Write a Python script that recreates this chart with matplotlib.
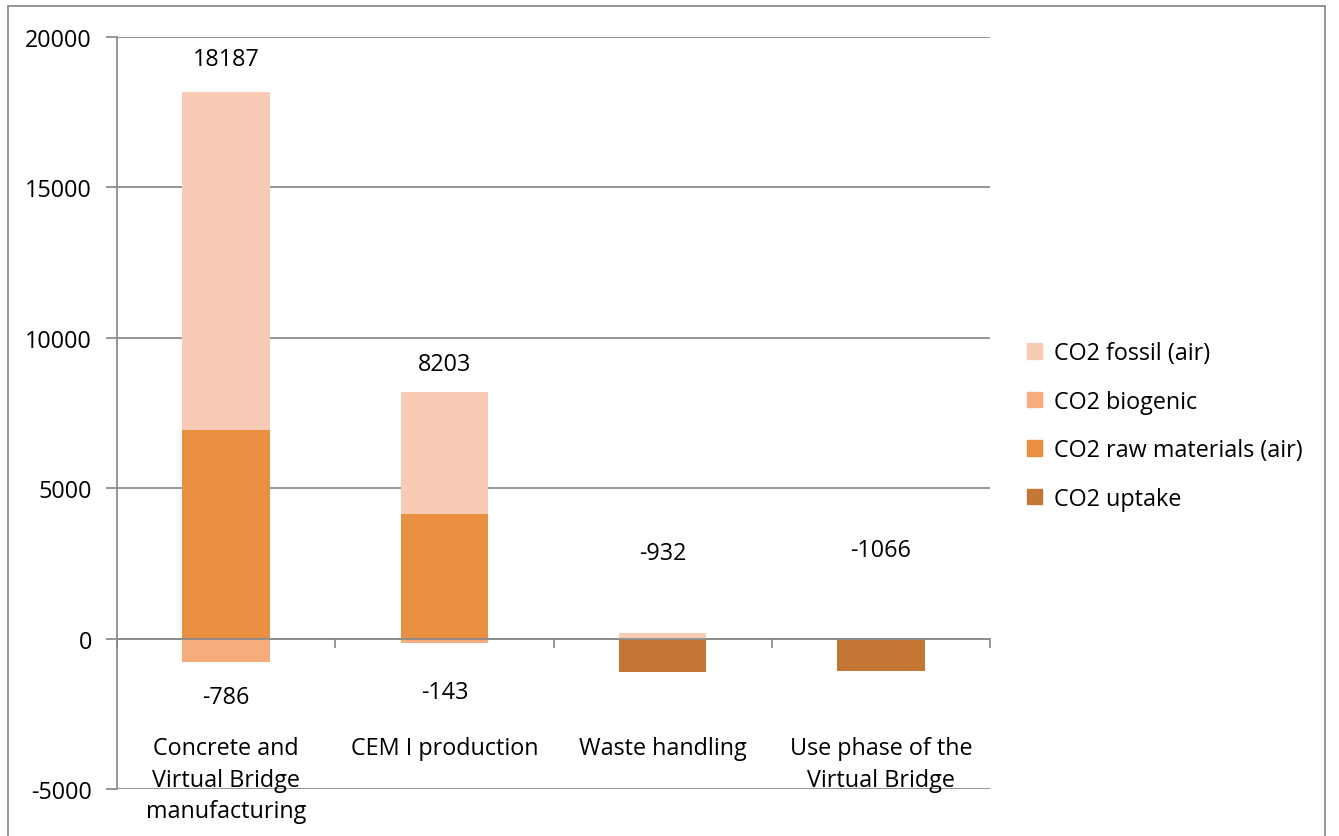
import numpy as np
import matplotlib.pyplot as plt
import matplotlib as mpl
from matplotlib.patches import Rectangle

mpl.rcParams['font.family'] = ['Open Sans', 'DejaVu Sans']
mpl.rcParams['font.size'] = 16.8
mpl.rcParams['axes.unicode_minus'] = False

# data
categories = ["Concrete and\nVirtual Bridge\nmanufacturing", "CEM I production",
              "Waste handling", "Use phase of the\nVirtual Bridge"]
fossil = [11237, 4045, 176, 0]
biogenic = [-786, -143, 0, 0]
raw_materials = [6950, 4158, 0, 0]
uptake = [0, 0, -1108, -1066]

top_labels = ["18187", "8203", "-932", "-1066"]
top_label_y = [19260, 9115, 2860, 2960]
bottom_labels = ["-786", "-143"]
bottom_label_y = [-1930, -1765]

col_fossil = '#F8CBB4'
col_bio = '#F6AC7C'
col_raw = '#E88F42'
col_uptake = '#C47634'
gridcol = '#8C8C8C'

fig = plt.figure(figsize=(13.39, 8.37), dpi=100)
ax = fig.add_axes([117/1339, 47/837, (990-117)/1339, (790-38)/837])

x = np.arange(len(categories))
w = 0.4
pos_base = np.zeros(len(x))
neg_base = np.zeros(len(x))

ax.bar(x, raw_materials, w, bottom=pos_base, color=col_raw, zorder=3)
pos_base += np.array(raw_materials)
ax.bar(x, fossil, w, bottom=pos_base, color=col_fossil, zorder=3)
ax.bar(x, biogenic, w, bottom=neg_base, color=col_bio, zorder=3)
neg_base += np.array(biogenic)
ax.bar(x, uptake, w, bottom=neg_base, color=col_uptake, zorder=3)

for i, (t, y) in enumerate(zip(top_labels, top_label_y)):
    ax.text(x[i], y, t, ha='center', va='center')
for i, (t, y) in enumerate(zip(bottom_labels, bottom_label_y)):
    ax.text(x[i], y, t, ha='center', va='center')

ax.set_xlim(-0.5, len(x) - 0.5)
ax.set_ylim(-5000, 20000)
ax.set_yticks(np.arange(-5000, 20001, 5000))
ax.yaxis.grid(True, color=gridcol, linewidth=1.3, zorder=0)
ax.tick_params(axis='y', length=8, color=gridcol, width=1.3, pad=10)
ax.set_xticks([])
for s in ['top', 'right', 'bottom']:
    ax.spines[s].set_visible(False)
ax.spines['left'].set_color(gridcol)
ax.spines['left'].set_linewidth(1.3)

# x axis line at zero with boundary ticks
ax.axhline(0, color=gridcol, linewidth=1.3, zorder=4)
for b in np.arange(-0.5, len(x), 1.0):
    ax.plot([b, b], [0, -270], color=gridcol, linewidth=1.3, zorder=4, clip_on=False)

for i, c in enumerate(categories):
    ax.text(x[i], 0.070, c, ha='center', va='top', transform=ax.get_xaxis_transform(),
            linespacing=1.4)

handles = [Rectangle((0, 0), 1, 1, color=c) for c in [col_fossil, col_bio, col_raw, col_uptake]]
fig.legend(handles, ["CO2 fossil (air)", "CO2 biogenic", "CO2 raw materials (air)", "CO2 uptake"],
           loc='center left', bbox_to_anchor=(1006/1339, 1 - 427/837), frameon=False,
           handlelength=0.65, handleheight=0.65, handletextpad=0.5, labelspacing=1.05)

fig.patches.append(Rectangle((8/1339, -0.1), (1325-8)/1339, 1.1 - 7/837, transform=fig.transFigure,
                             fill=False, edgecolor=gridcol, linewidth=1.3))

fig.savefig("out.png", dpi=100)
